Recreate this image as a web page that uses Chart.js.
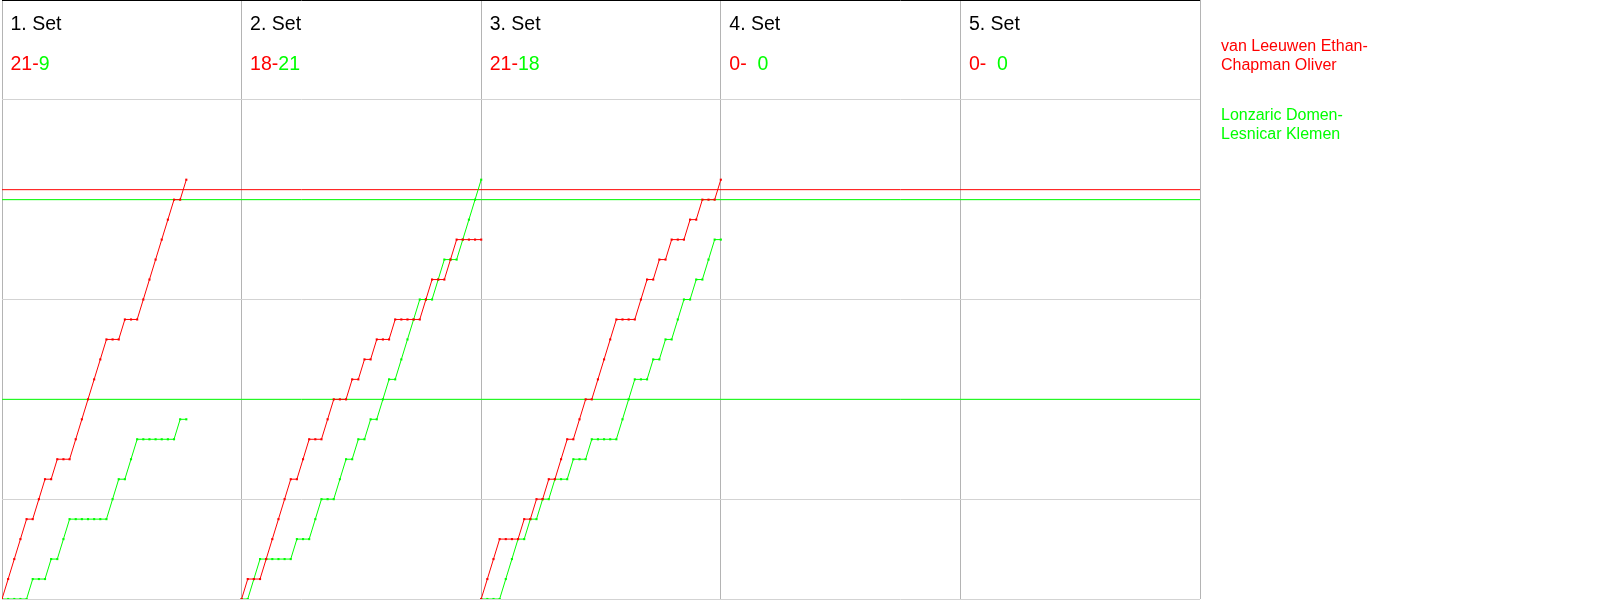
<!DOCTYPE html>
<html>
<head>
<meta charset="utf-8">
<script src="https://cdn.jsdelivr.net/npm/chart.js@4.4.1/dist/chart.umd.min.js"></script>
<style>
  body { margin: 0; background: #fff; }
  #wrap { position: relative; width: 1600px; height: 600px; font-family: "Liberation Sans", Arial, sans-serif; }
  .lbl { position: absolute; white-space: pre; }
  .title { font-size: 19.5px; line-height: 19.5px; color: #000; }
  .score { font-size: 19.5px; line-height: 19.5px; }
  .team { font-size: 16px; line-height: 19px; }
  .red { color: #ff0000; }
  .green { color: #00ff00; }
</style>
</head>
<body>
<div id="wrap"><canvas id="chart" width="1600" height="600"></canvas></div>
<script>
// ======================
// Data
// ======================
const setNames = ['1. Set', '2. Set', '3. Set', '4. Set', '5. Set'];
const scoreRed = [21, 18, 21, 0, 0];
const scoreGreen = [9, 21, 18, 0, 0];
const teamRed = ['van Leeuwen Ethan-', 'Chapman Oliver'];
const teamGreen = ['Lonzaric Domen-', 'Lesnicar Klemen'];

// running score after every rally (index 0 = start of the set)
const set1Red   = [0,1,2,3,4,4,5,6,6,7,7,7,8,9,10,11,12,13,13,13,14,14,14,15,16,17,18,19,20,20,21];
const set1Green = [0,0,0,0,0,1,1,1,2,2,3,4,4,4,4,4,4,4,5,6,6,7,8,8,8,8,8,8,8,9,9];
const set2Red   = [0,1,1,1,2,3,4,5,6,6,7,8,8,8,9,10,10,10,11,11,12,12,13,13,13,14,14,14,14,14,15,16,16,16,17,18,18,18,18,18];
const set2Green = [0,0,1,2,2,2,2,2,2,3,3,3,4,5,5,5,6,7,7,8,8,9,9,10,11,11,12,13,14,15,15,15,16,17,17,17,18,19,20,21];
const set3Red   = [0,1,2,3,3,3,3,4,4,5,5,6,6,7,8,8,9,10,10,11,12,13,14,14,14,14,15,16,16,17,17,18,18,18,19,19,20,20,20,21];
const set3Green = [0,0,0,0,1,2,3,3,4,4,5,5,6,6,6,7,7,7,8,8,8,8,8,9,10,11,11,11,12,12,13,13,14,15,15,16,16,17,18,18];
const set4Red = [], set4Green = [];
const set5Red = [], set5Green = [];

const redSets = [set1Red, set2Red, set3Red, set4Red, set5Red];
const greenSets = [set1Green, set2Green, set3Green, set4Green, set5Green];

// horizontal marker lines across all sets
const redLevels = [20.5];
const greenLevels = [20, 10];

const ralliesPerSet = 39;
const maxScore = 30;

const RED = '#ff0000';
const GREEN = '#00ff00';

// ======================
// Build datasets
// ======================
function toPoints(scores, setIndex) {
  return scores.map((s, i) => ({ x: setIndex * ralliesPerSet + i, y: s }));
}

function rallyLine(scores, setIndex, color) {
  return {
    data: toPoints(scores, setIndex),
    borderColor: color,
    backgroundColor: color,
    borderWidth: 1,
    pointStyle: 'rect',
    pointRadius: 1.5,
    pointBorderWidth: 0,
    tension: 0
  };
}

function levelLine(level, color) {
  return {
    data: [{ x: 0, y: level }, { x: setNames.length * ralliesPerSet, y: level }],
    borderColor: color,
    borderWidth: 1,
    pointRadius: 0
  };
}

const datasets = [];
redSets.forEach((s, i) => { if (s.length) datasets.push(rallyLine(s, i, RED)); });
greenSets.forEach((s, i) => { if (s.length) datasets.push(rallyLine(s, i, GREEN)); });
redLevels.forEach(l => datasets.push(levelLine(l, RED)));
greenLevels.forEach(l => datasets.push(levelLine(l, GREEN)));

// ======================
// Chart
// ======================
const chart = new Chart(document.getElementById('chart'), {
  type: 'line',
  data: { datasets },
  options: {
    responsive: false,
    animation: false,
    devicePixelRatio: 1,
    layout: { autoPadding: false, padding: { left: 2, right: 400, top: 0, bottom: 1 } },
    plugins: { legend: { display: false }, tooltip: { enabled: false } },
    scales: {
      x: {
        type: 'linear',
        min: 0,
        max: setNames.length * ralliesPerSet,
        ticks: { display: false, stepSize: ralliesPerSet },
        grid: { color: '#b4b4b4', drawTicks: false },
        border: { display: false }
      },
      y: {
        min: 0,
        max: maxScore,
        ticks: { display: false, stepSize: 5 },
        grid: {
          color: ctx => ctx.tick && ctx.tick.value === maxScore ? '#000000' : '#d3d3d3',
          drawTicks: false
        },
        border: { display: false }
      }
    }
  }
});

// ======================
// Text overlay
// ======================
const wrap = document.getElementById('wrap');

function addLabel(parent, text, cls, left, top) {
  const el = document.createElement('div');
  el.className = 'lbl ' + cls;
  el.style.left = left + 'px';
  el.style.top = top + 'px';
  el.textContent = text;
  parent.appendChild(el);
  return el;
}

setNames.forEach((name, i) => {
  const left = chart.scales.x.getPixelForValue(i * ralliesPerSet) + 8.5;
  addLabel(wrap, name, 'title', left, 13.5);

  const score = addLabel(wrap, '', 'score', left, 53.5);
  const r = document.createElement('span');
  r.className = 'red';
  r.textContent = scoreRed[i] + '-';
  const g = document.createElement('span');
  g.className = 'green';
  g.textContent = (redSets[i].length ? '' : '  ') + scoreGreen[i];
  score.appendChild(r);
  score.appendChild(g);
});

addLabel(wrap, teamRed.join('\n'), 'team red', 1221, 36);
addLabel(wrap, teamGreen.join('\n'), 'team green', 1221, 104.5);
</script>
</body>
</html>
